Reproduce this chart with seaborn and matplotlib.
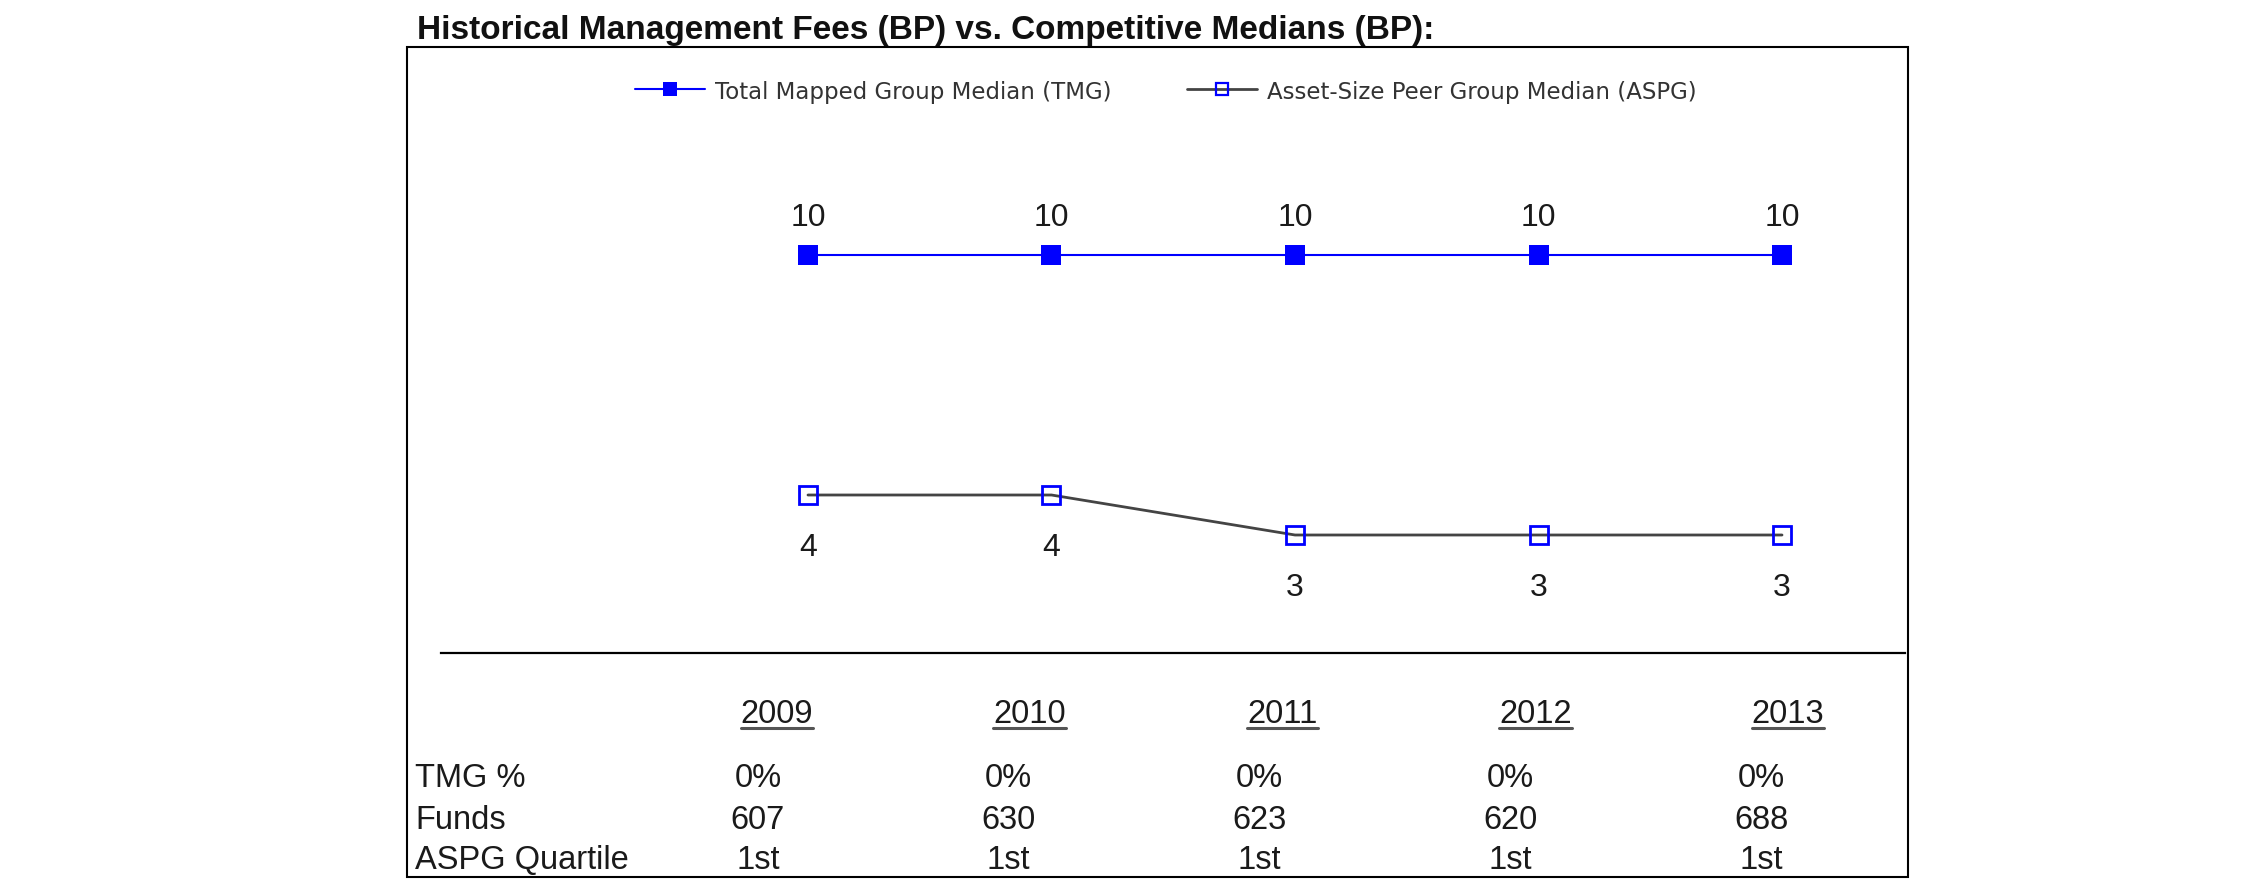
import matplotlib
matplotlib.use("Agg")
import matplotlib.pyplot as plt
import seaborn as sns
import pandas as pd
from matplotlib.lines import Line2D
from matplotlib.patches import Rectangle

# ---- data ----
years = [2009, 2010, 2011, 2012, 2013]
tmg_median = [10, 10, 10, 10, 10]
aspg_median = [4, 4, 3, 3, 3]
tmg_pct = ["0%", "0%", "0%", "0%", "0%"]
funds = ["607", "630", "623", "620", "688"]
aspg_quartile = ["1st", "1st", "1st", "1st", "1st"]
row_labels = ["TMG %", "Funds", "ASPG Quartile"]
title = "Historical Management Fees (BP) vs. Competitive Medians (BP):"
series_names = ["Total Mapped Group Median (TMG)", "Asset-Size Peer Group Median (ASPG)"]

sns.set_theme(style="white")
plt.rcParams['font.family'] = ['Liberation Sans', 'DejaVu Sans']

W, H = 2250, 895
DPI = 100
fig = plt.figure(figsize=(W / DPI, H / DPI), dpi=DPI)
fig.patch.set_facecolor("white")


def fx(px):
    return px / W


def fy(py):
    return 1 - py / H


ax = fig.add_axes([fx(441), fy(654), fx(1905) - fx(441), fy(48) - fy(654)])
ax.patch.set_alpha(0)

df = pd.DataFrame({"year": years, "tmg": tmg_median, "aspg": aspg_median})
sns.lineplot(data=df, x="year", y="tmg", ax=ax, color="#0000FF", lw=1.5,
             marker="s", markersize=15, markerfacecolor="#0000FF",
             markeredgecolor="#0000FF", markeredgewidth=0, legend=False)
sns.lineplot(data=df, x="year", y="aspg", ax=ax, color="#444444", lw=2.0,
             marker="s", markersize=13, markerfacecolor="none",
             markeredgecolor="#0000FF", markeredgewidth=2, legend=False)

ax.set_xlim(years[0] - 1.507, years[-1] + 0.505)
ax.set_ylim(0.05, 15.2)
ax.set_xticks([])
ax.set_yticks([])
ax.set_xlabel("")
ax.set_ylabel("")
for s in ["top", "left", "right"]:
    ax.spines[s].set_visible(False)
ax.spines["bottom"].set_color("black")
ax.spines["bottom"].set_linewidth(1.6)

for x, v in zip(years, tmg_median):
    ax.annotate(f"{v}", (x, v), xytext=(0, 21.6), textcoords="offset points",
                ha="center", va="baseline", fontsize=23, color="#1a1a1a")
for x, v in zip(years, aspg_median):
    ax.annotate(f"{v}", (x, v), xytext=(0, -43), textcoords="offset points",
                ha="center", va="baseline", fontsize=23, color="#1a1a1a")

# frame
fig.patches.append(Rectangle((fx(407), fy(878)), fx(1908) - fx(407), fy(48) - fy(878),
                             transform=fig.transFigure, fill=False, lw=1.5,
                             ec="black", zorder=5))

# title
fig.text(fx(417), fy(39), title, fontsize=24, fontweight="bold",
         ha="left", va="baseline", color="#111111")

# legend
handles = [
    Line2D([], [], color="#0000FF", lw=1.5, marker="s", markersize=10,
           markerfacecolor="#0000FF", markeredgecolor="#0000FF", markeredgewidth=0),
    Line2D([], [], color="#444444", lw=2.0, marker="s", markersize=8.5,
           markerfacecolor="none", markeredgecolor="#0000FF", markeredgewidth=1.6),
]
fig.legend(handles, series_names, loc="center", bbox_to_anchor=(fx(1166), fy(92)),
           ncol=2, frameon=False, prop={"family": "DejaVu Sans", "size": 16.5},
           handlelength=3.05, handletextpad=0.45, columnspacing=3.3,
           labelcolor="#333333", borderpad=0)

# table
table_font = 23.5
row_base = [787, 829, 869]
for lab, yb in zip(row_labels, row_base):
    fig.text(fx(415), fy(yb), lab, fontsize=table_font, ha="left", va="baseline",
             color="#1a1a1a")

headers = []
for i, yr in enumerate(years):
    t = fig.text(fx(777 + 252.75 * i), fy(723), str(yr), fontsize=table_font,
                 ha="center", va="baseline", color="#1a1a1a")
    headers.append(t)

for rows, yb in zip([tmg_pct, funds, aspg_quartile], row_base):
    for i, val in enumerate(rows):
        fig.text(fx(758 + 250.75 * i), fy(yb), val, fontsize=table_font,
                 ha="center", va="baseline", color="#1a1a1a")

fig.canvas.draw()
renderer = fig.canvas.get_renderer()
for t in headers:
    bb = t.get_window_extent(renderer)
    fig.add_artist(Line2D([bb.x0 / W, bb.x1 / W], [fy(729), fy(729)],
                          transform=fig.transFigure, color="#555555", lw=2.2))

fig.savefig("out.png", dpi=DPI, facecolor="white")
